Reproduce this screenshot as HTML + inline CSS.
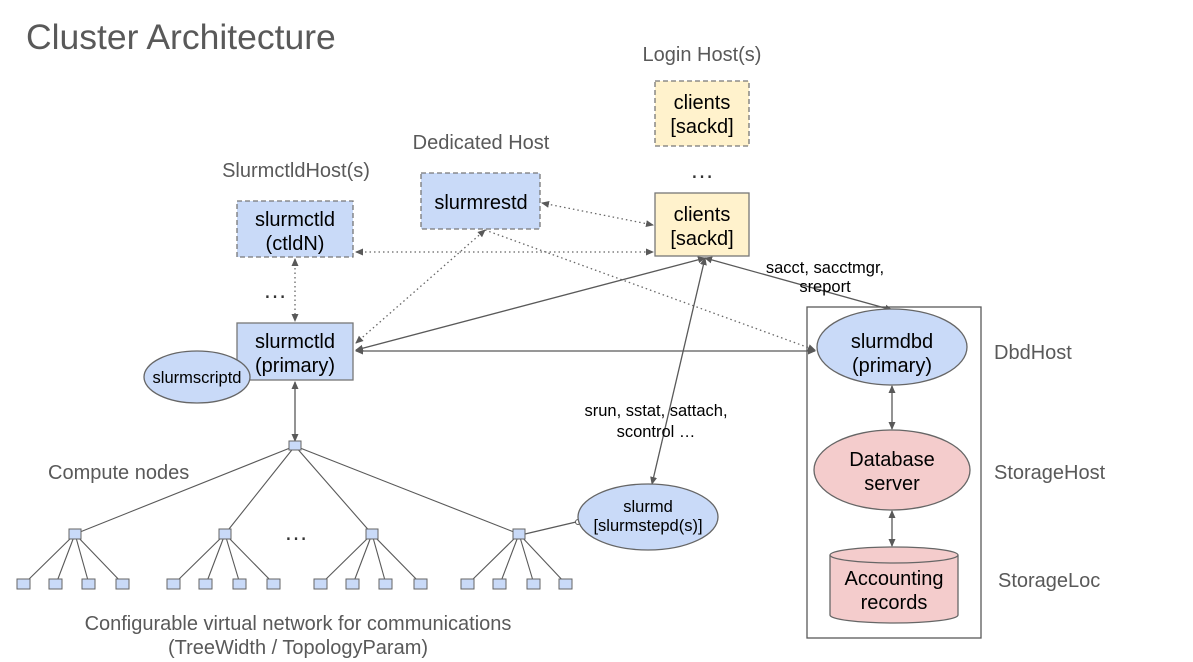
<!DOCTYPE html>
<html><head><meta charset="utf-8"><style>
html,body{margin:0;padding:0;background:#fff;}
svg{display:block;font-family:"Liberation Sans",Arial,sans-serif;}
</style></head><body>
<svg width="1193" height="662" viewBox="0 0 1193 662" xmlns="http://www.w3.org/2000/svg">
<defs>
<marker id="a" markerWidth="8" markerHeight="8" refX="7" refY="4" orient="auto-start-reverse" markerUnits="userSpaceOnUse"><path d="M0,0.5 L8,4 L0,7.5 z" fill="#595959"/></marker>
</defs>
<rect width="1193" height="662" fill="#fff"/>
<text x="26" y="49" font-size="35.5" fill="#595959">Cluster Architecture</text>
<g font-size="20" fill="#595959" text-anchor="middle">
<text x="702" y="61">Login Host(s)</text>
<text x="481" y="149">Dedicated Host</text>
<text x="296" y="177">SlurmctldHost(s)</text>
</g>
<g font-size="20" fill="#595959">
<text x="994" y="359">DbdHost</text>
<text x="994" y="479">StorageHost</text>
<text x="998" y="587">StorageLoc</text>
<text x="48" y="479">Compute nodes</text>
</g>
<g font-size="20" fill="#595959" text-anchor="middle">
<text x="298" y="630">Configurable virtual network for communications</text>
<text x="298" y="654">(TreeWidth / TopologyParam)</text>
</g>
<g font-size="24" fill="#333" text-anchor="middle">
<text x="702" y="178">…</text>
<text x="275" y="298">…</text>
<text x="296" y="540">…</text>
</g>

<g stroke="#666" stroke-width="1.3" stroke-dasharray="1.5,3" fill="none">
<line x1="542" y1="203" x2="653" y2="225" marker-start="url(#a)" marker-end="url(#a)"/>
<line x1="356" y1="252" x2="653" y2="252" marker-start="url(#a)" marker-end="url(#a)"/>
<line x1="295" y1="259" x2="295" y2="321" marker-start="url(#a)" marker-end="url(#a)"/>
<line x1="356" y1="343" x2="485" y2="230" marker-start="url(#a)" marker-end="url(#a)"/>
<line x1="485" y1="230" x2="815" y2="350" marker-end="url(#a)"/>
</g>
<g stroke="#595959" stroke-width="1.3" fill="none">
<line x1="356" y1="350" x2="705" y2="258" marker-start="url(#a)" marker-end="url(#a)"/>
<line x1="356" y1="351" x2="815" y2="351" marker-start="url(#a)" marker-end="url(#a)"/>
<line x1="705" y1="258" x2="892" y2="310" marker-start="url(#a)" marker-end="url(#a)"/>
<line x1="705" y1="258" x2="652" y2="484" marker-start="url(#a)" marker-end="url(#a)"/>
<line x1="295" y1="382" x2="295" y2="441" marker-start="url(#a)" marker-end="url(#a)"/>
<line x1="892" y1="386" x2="892" y2="429" marker-start="url(#a)" marker-end="url(#a)"/>
<line x1="892" y1="511" x2="892" y2="546" marker-start="url(#a)" marker-end="url(#a)"/>
<line x1="525" y1="534" x2="576" y2="522"/>
</g>
<circle cx="578" cy="522" r="2.5" fill="#fff" stroke="#595959"/>

<g font-size="16.5" fill="#000" text-anchor="middle">
<text x="825" y="273">sacct, sacctmgr,</text>
<text x="825" y="292">sreport</text>
<text x="656" y="416">srun, sstat, sattach,</text>
<text x="656" y="437">scontrol …</text>
</g>

<g stroke="#595959" stroke-width="1.1">
<line x1="295" y1="446" x2="75" y2="534"/><line x1="295" y1="446" x2="225" y2="534"/>
<line x1="295" y1="446" x2="372" y2="534"/><line x1="295" y1="446" x2="519" y2="534"/>
<line x1="75" y1="534" x2="24" y2="584"/><line x1="75" y1="534" x2="56" y2="584"/><line x1="75" y1="534" x2="89" y2="584"/><line x1="75" y1="534" x2="123" y2="584"/>
<line x1="225" y1="534" x2="174" y2="584"/><line x1="225" y1="534" x2="206" y2="584"/><line x1="225" y1="534" x2="240" y2="584"/><line x1="225" y1="534" x2="274" y2="584"/>
<line x1="372" y1="534" x2="321" y2="584"/><line x1="372" y1="534" x2="353" y2="584"/><line x1="372" y1="534" x2="386" y2="584"/><line x1="372" y1="534" x2="421" y2="584"/>
<line x1="519" y1="534" x2="468" y2="584"/><line x1="519" y1="534" x2="500" y2="584"/><line x1="519" y1="534" x2="534" y2="584"/><line x1="519" y1="534" x2="566" y2="584"/>
</g>
<g fill="#c9daf8" stroke="#666" stroke-width="1">
<rect x="289" y="441" width="12" height="9"/>
<rect x="69" y="529" width="12" height="10"/><rect x="219" y="529" width="12" height="10"/><rect x="366" y="529" width="12" height="10"/><rect x="513" y="529" width="12" height="10"/>
<rect x="17" y="579" width="13" height="10"/><rect x="49" y="579" width="13" height="10"/><rect x="82" y="579" width="13" height="10"/><rect x="116" y="579" width="13" height="10"/>
<rect x="167" y="579" width="13" height="10"/><rect x="199" y="579" width="13" height="10"/><rect x="233" y="579" width="13" height="10"/><rect x="267" y="579" width="13" height="10"/>
<rect x="314" y="579" width="13" height="10"/><rect x="346" y="579" width="13" height="10"/><rect x="379" y="579" width="13" height="10"/><rect x="414" y="579" width="13" height="10"/>
<rect x="461" y="579" width="13" height="10"/><rect x="493" y="579" width="13" height="10"/><rect x="527" y="579" width="13" height="10"/><rect x="559" y="579" width="13" height="10"/>
</g>

<rect x="807" y="307" width="174" height="331" fill="none" stroke="#595959" stroke-width="1.3"/>
<rect x="655" y="81" width="94" height="65" fill="#fff2cc" stroke="#777" stroke-width="1.3" stroke-dasharray="5,3"/>
<rect x="655" y="193" width="94" height="63" fill="#fff2cc" stroke="#777" stroke-width="1.3"/>
<rect x="421" y="173" width="119" height="56" fill="#c9daf8" stroke="#777" stroke-width="1.3" stroke-dasharray="5,3"/>
<rect x="237" y="201" width="116" height="56" fill="#c9daf8" stroke="#777" stroke-width="1.3" stroke-dasharray="5,3"/>
<rect x="237" y="323" width="116" height="57" fill="#c9daf8" stroke="#777" stroke-width="1.3"/>
<ellipse cx="197" cy="377" rx="53" ry="26" fill="#c9daf8" stroke="#666" stroke-width="1.3"/>
<ellipse cx="648" cy="517" rx="70" ry="33" fill="#c9daf8" stroke="#666" stroke-width="1.3"/>
<ellipse cx="892" cy="347" rx="75" ry="38" fill="#c9daf8" stroke="#666" stroke-width="1.3"/>
<ellipse cx="892" cy="470" rx="78" ry="40" fill="#f4cccc" stroke="#666" stroke-width="1.3"/>
<path d="M830,555 L830,615 A64,8 0 0 0 958,615 L958,555" fill="#f4cccc" stroke="#666" stroke-width="1.3"/>
<ellipse cx="894" cy="555" rx="64" ry="8" fill="#f4cccc" stroke="#666" stroke-width="1.3"/>

<g font-size="20" fill="#000" text-anchor="middle">
<text x="702" y="109">clients</text><text x="702" y="133">[sackd]</text>
<text x="702" y="221">clients</text><text x="702" y="245">[sackd]</text>
<text x="481" y="209">slurmrestd</text>
<text x="295" y="226">slurmctld</text><text x="295" y="250">(ctldN)</text>
<text x="295" y="348">slurmctld</text><text x="295" y="372">(primary)</text>
<text x="892" y="348">slurmdbd</text><text x="892" y="372">(primary)</text>
<text x="892" y="466">Database</text><text x="892" y="490">server</text>
<text x="894" y="585">Accounting</text><text x="894" y="609">records</text>
</g>
<g font-size="16.5" fill="#000" text-anchor="middle">
<text x="197" y="383">slurmscriptd</text>
<text x="648" y="512">slurmd</text>
<text x="648" y="531">[slurmstepd(s)]</text>
</g>
</svg>
</body></html>
